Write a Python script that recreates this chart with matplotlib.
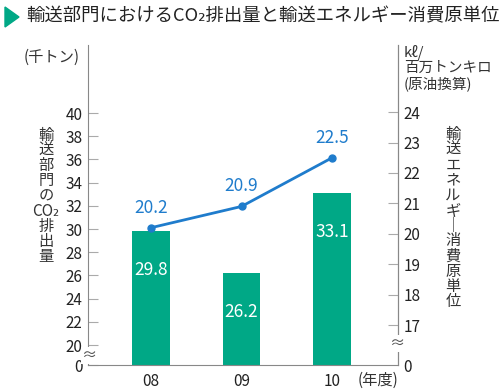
import matplotlib
matplotlib.use("Agg")
import matplotlib.pyplot as plt
from matplotlib.patches import Polygon

plt.rcParams['font.family'] = ['Noto Sans CJK JP', 'DejaVu Sans']

years = ["08", "09", "10"]
co2 = [29.8, 26.2, 33.1]            # 千トン
intensity = [20.2, 20.9, 22.5]      # kℓ/百万トンキロ
left_ticks = [20, 22, 24, 26, 28, 30, 32, 34, 36, 38, 40]
right_ticks = [17, 18, 19, 20, 21, 22, 23, 24]

GREEN = "#00a886"
BLUE = "#1f7ccc"
GREY = "#888888"
TXT = "#333333"

# broken axes: map values onto a shared pixel-like scale (0 at bottom)
def left_pos(v):
    return 0 if v == 0 else 20 + (v - 20) * 11.6

def right_pos(v):
    return 0 if v == 0 else 40 + (v - 17) * 30.4

fig = plt.figure(figsize=(5, 3.91), dpi=100)
ax = fig.add_axes([88 / 500, 26 / 391, 310 / 500, 320 / 391])
ax.set_xlim(-0.696, 2.729)
ax.set_ylim(0, 320)

x = list(range(len(years)))
ax.bar(x, [left_pos(v) for v in co2], width=0.41, color=GREEN)
for xi, v in zip(x, co2):
    ax.text(xi, left_pos(v) - 39, f"{v}", color="white", ha="center", va="center", fontsize=12.5)

ly = [right_pos(v) for v in intensity]
ax.plot(x, ly, color=BLUE, lw=2, marker="o", ms=5)
for xi, yi, v in zip(x, ly, intensity):
    ax.text(xi, yi + 20, f"{v}", color=BLUE, ha="center", va="center", fontsize=12.5)

ax.spines["top"].set_visible(False)
for s in ["left", "right", "bottom"]:
    ax.spines[s].set_color(GREY)

ax.set_yticks([0] + [left_pos(v) for v in left_ticks])
ax.set_yticklabels(["0"] + [str(v) for v in left_ticks], fontsize=11)
ax.tick_params(axis="y", direction="in", length=7, color="#aaaaaa", pad=4, labelcolor="#222222")
ax.set_xticks(x)
ax.set_xticklabels(years, fontsize=11)
ax.tick_params(axis="x", length=0, pad=6, labelcolor="#222222")
ax.get_yticklines()[0].set_visible(False)

ax2 = ax.twinx()
ax2.set_ylim(0, 320)
for s in ["top", "left", "bottom"]:
    ax2.spines[s].set_visible(False)
ax2.spines["right"].set_color(GREY)
ax2.set_yticks([0] + [right_pos(v) for v in right_ticks])
ax2.set_yticklabels(["0"] + [str(v) for v in right_ticks], fontsize=11)
ax2.tick_params(axis="y", direction="in", length=7, color="#aaaaaa", pad=4, labelcolor="#222222")
ax2.get_yticklines()[1].set_visible(False)

# break marks on the axis lines
ax2.text(0.003, 10, "≈", transform=ax.get_yaxis_transform(), ha="center", va="center",
         fontsize=11, color="#555555", bbox=dict(fc="white", ec="none", pad=0))
ax2.text(0.997, 22, "≈", transform=ax.get_yaxis_transform(), ha="center", va="center",
         fontsize=11, color="#555555", bbox=dict(fc="white", ec="none", pad=0))

# title
fig.patches.append(Polygon([[5 / 500, 1 - 7 / 391], [5 / 500, 1 - 27 / 391], [19 / 500, 1 - 17 / 391]],
                           closed=True, transform=fig.transFigure, color=GREEN))
fig.text(26 / 500, 1 - 16 / 391, "輸送部門におけるCO₂排出量と輸送エネルギー消費原単位",
         fontsize=13.2, va="center", ha="left", color="#222222")

fig.text(24 / 500, 1 - 57 / 391, "(千トン)", fontsize=11, va="center", ha="left", color=TXT)
fig.text(404 / 500, 1 - 45 / 391, "kℓ/\n百万トンキロ\n(原油換算)", fontsize=10.5, va="top", ha="left",
         color=TXT, linespacing=1.08)

# vertical axis titles, one character per line
fig.text(46 / 500, 1 - 196 / 391, "輸\n送\n部\n門\nの\nCO₂\n排\n出\n量", fontsize=11,
         va="center", ha="center", color=TXT, linespacing=0.86)
fig.text(453 / 500, 1 - 218 / 391, "輸\n送\nエ\nネ\nル\nギ\n｜\n消\n費\n原\n単\n位", fontsize=11,
         va="center", ha="center", color=TXT, linespacing=0.86)

fig.text(398 / 500, 1 - 380 / 391, "(年度)", fontsize=11, va="center", ha="right", color=TXT)

fig.savefig("out.png", dpi=100)
